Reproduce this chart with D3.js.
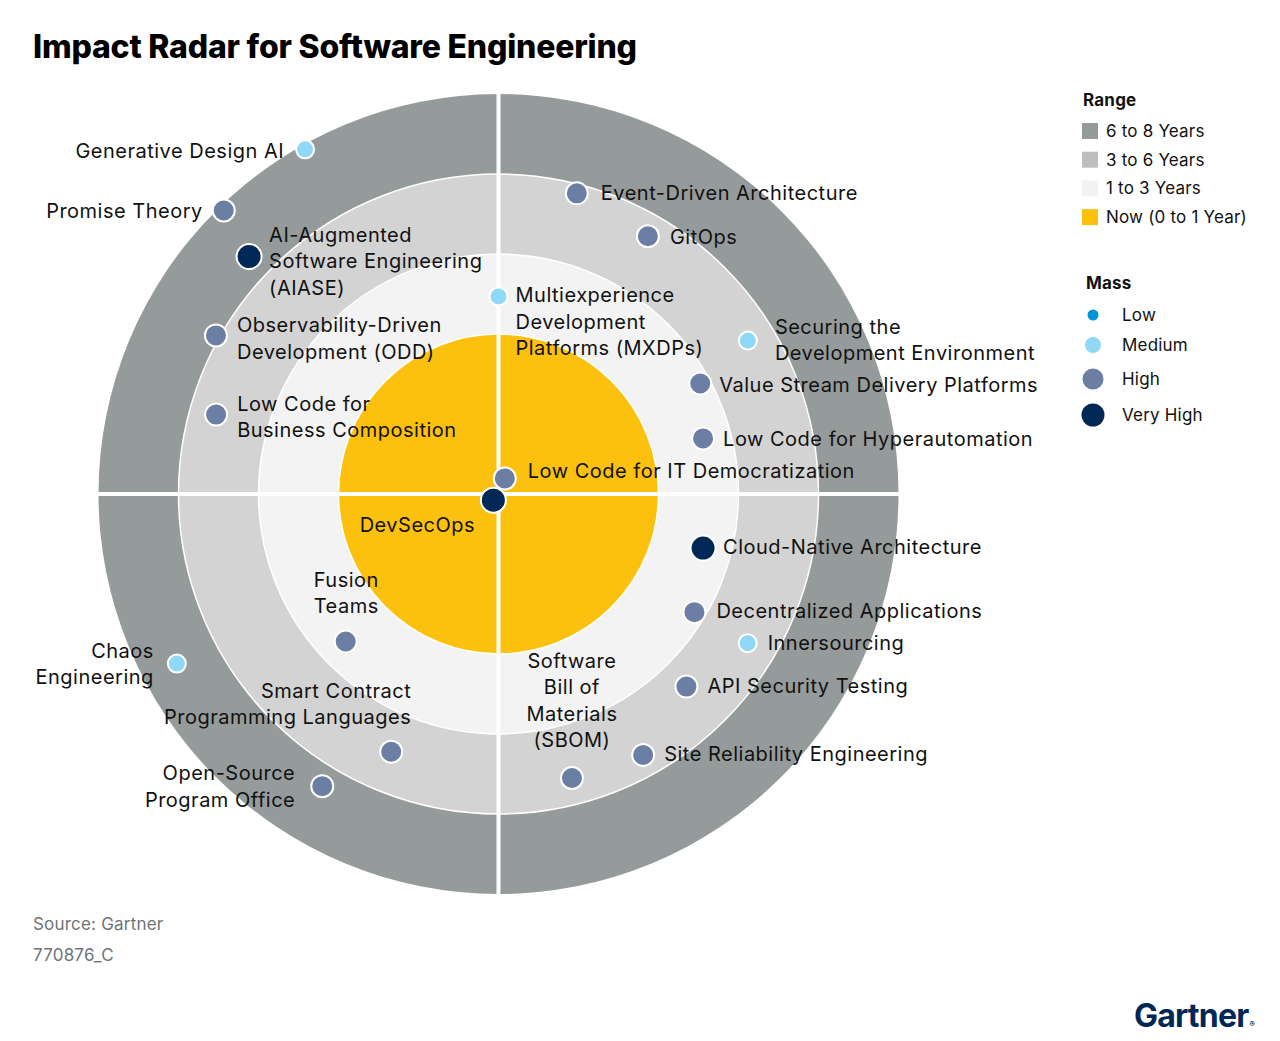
<!DOCTYPE html>
<html>
<head>
<meta charset="utf-8">
<script src="https://cdn.jsdelivr.net/npm/d3@7"></script>
<style>
  body { margin: 0; background: #fff; }
  svg { display: block; font-family: Inter, "Noto Sans", sans-serif; }
  .label { font-size: 20px; fill: #111; letter-spacing: 0.5px; }
  .legend text { font-size: 17px; fill: #111; letter-spacing: 0.2px; }
</style>
</head>
<body>
<div id="chart"></div>
<script>
// range rings, outer to inner (years from now)
const rangeLabels = ['6 to 8 Years', '3 to 6 Years', '1 to 3 Years', 'Now (0 to 1 Year)']
const rangeOuter = [8, 6, 3, 1]
const rangeColors = ['#959b9a', '#d3d3d3', '#f3f3f3', '#fcc10f']
const legendSwatch = ['#959b9a', '#bebebe', '#f2f2f2', '#fcc10f']

const massLevels = ['Low', 'Medium', 'High', 'Very High']
const massColors = ['#0096d6', '#8fd8f7', '#6a7fa3', '#002856']

// technologies: label text, years to mass adoption, angle (deg, clockwise from top), mass
const techNames = [
  'Generative Design AI',
  'Promise Theory',
  'AI-Augmented\nSoftware Engineering\n(AIASE)',
  'Multiexperience\nDevelopment\nPlatforms (MXDPs)',
  'Observability-Driven\nDevelopment (ODD)',
  'Low Code for\nBusiness Composition',
  'Event-Driven Architecture',
  'GitOps',
  'Securing the\nDevelopment Environment',
  'Value Stream Delivery Platforms',
  'Low Code for Hyperautomation',
  'Low Code for IT Democratization',
  'DevSecOps',
  'Cloud-Native Architecture',
  'Decentralized Applications',
  'Innersourcing',
  'API Security Testing',
  'Site Reliability Engineering',
  'Software\nBill of\nMaterials\n(SBOM)',
  'Open-Source\nProgram Office',
  'Smart Contract\nProgramming Languages',
  'Fusion\nTeams',
  'Chaos\nEngineering'
]
const techYears = [7.88, 7.87, 6.61, 1.94, 6.1, 5.0, 5.65, 5.17, 4.98, 2.75, 2.3, 0.105, 0.05,
  2.29, 2.72, 4.89, 4.09, 5.19, 5.0, 6.53, 4.47, 2.31, 7.09]
const techAngles = [-29.3, -44.1, -46.4, 0, -60.7, -74.3, 14.6, 30.1, 58.4, 61.3, 74.8, 22, -140,
  104.8, 121.1, 120.9, 135.7, 151.0, 165.5, 211.1, 202.6, 226.0, 242.2]
const techMass = ['Medium', 'High', 'Very High', 'Medium', 'High', 'High', 'High', 'High', 'Medium',
  'High', 'High', 'High', 'Very High', 'Very High', 'High', 'Medium', 'High', 'High', 'High',
  'High', 'High', 'High', 'Medium']

// label placement relative to its dot: [anchor, dx, dy of first line]
const labelLayout = [
  ['end', -21, 2], ['end', -21, 1], ['start', 20, -22], ['start', 17, -1],
  ['start', 21, -10], ['start', 21, -11], ['start', 24, 0], ['start', 22, 1],
  ['start', 27, -14], ['start', 19, 1], ['start', 20, 1], ['start', 23, -7],
  ['middle', -76, 25], ['start', 20, -1], ['start', 22, -1], ['start', 20, 0],
  ['start', 21, -1], ['start', 21, -1], ['middle', 0, -117], ['end', -27, -13],
  ['end', 20, -61], ['start', -32, -62], ['end', -23, -13]
]

const width = 1280
const height = 1041
const cx = 498.5
const cy = 494
const lineHeight = 26.5

const r = d3.scaleLinear().domain([0, 1, 3, 6, 8]).range([0, 160, 240, 320, 400])
const mass = d3.scaleOrdinal().domain(massLevels).range(massColors)
const massRadius = d3.scaleOrdinal().domain(massLevels).range([5.5, 9, 11, 12.5])

const techs = techNames.map((name, i) => ({
  name,
  years: techYears[i],
  angle: techAngles[i],
  mass: techMass[i],
  layout: labelLayout[i]
}))

const svg = d3.select('#chart').append('svg')
  .attr('width', width)
  .attr('height', height)

svg.append('text')
  .attr('x', 33)
  .attr('y', 58)
  .attr('font-size', 32)
  .attr('font-weight', 800)
  .attr('letter-spacing', -0.2)
  .text('Impact Radar for Software Engineering')

const g = svg.append('g').attr('transform', `translate(${cx},${cy})`)

g.selectAll('.ring')
  .data(rangeOuter)
  .join('circle')
  .attr('class', 'ring')
  .attr('r', d => r(d))
  .attr('fill', (d, i) => rangeColors[i])
  .attr('stroke', '#fff')
  .attr('stroke-width', (d, i) => i === 0 ? 0 : 1.5)

// quadrant dividers
const rMax = r(8)
g.append('line').attr('x1', 0).attr('x2', 0).attr('y1', -rMax - 2).attr('y2', rMax + 2)
  .attr('stroke', '#fff').attr('stroke-width', 4)
g.append('line').attr('y1', 0).attr('y2', 0).attr('x1', -rMax - 2).attr('x2', rMax + 2)
  .attr('stroke', '#fff').attr('stroke-width', 4)

const pos = d => {
  const a = d.angle * Math.PI / 180
  return [r(d.years) * Math.sin(a), -r(d.years) * Math.cos(a)]
}

const labels = g.append('g').attr('class', 'labels')
labels.selectAll('text')
  .data(techs)
  .join('text')
  .attr('class', 'label')
  .attr('text-anchor', d => d.layout[0])
  .each(function(d) {
    const [x, y] = pos(d)
    const lines = d.name.split('\n')
    d3.select(this).selectAll('tspan')
      .data(lines)
      .join('tspan')
      .attr('x', x + d.layout[1])
      .attr('y', (l, j) => y + d.layout[2] + j * lineHeight)
      .attr('dy', '0.35em')
      .text(l => l)
  })

g.append('g').selectAll('circle')
  .data(techs)
  .join('circle')
  .attr('cx', d => pos(d)[0])
  .attr('cy', d => pos(d)[1])
  .attr('r', d => massRadius(d.mass))
  .attr('fill', d => mass(d.mass))
  .attr('stroke', '#fff')
  .attr('stroke-width', 2)

// legend
const legend = svg.append('g').attr('class', 'legend').attr('transform', 'translate(1082,0)')
legend.append('text').attr('x', 1).attr('y', 106).attr('font-weight', 700).text('Range')
const rangeItems = legend.selectAll('.range-item')
  .data(rangeLabels)
  .join('g')
  .attr('class', 'range-item')
  .attr('transform', (d, i) => `translate(0,${131 + i * 28.7})`)
rangeItems.append('rect').attr('y', -8).attr('width', 16).attr('height', 16)
  .attr('fill', (d, i) => legendSwatch[i])
rangeItems.append('text').attr('x', 24).attr('dy', '0.35em').text(d => d)

legend.append('text').attr('x', 4).attr('y', 289).attr('font-weight', 700).text('Mass')
const massItems = legend.selectAll('.mass-item')
  .data(massLevels)
  .join('g')
  .attr('class', 'mass-item')
  .attr('transform', (d, i) => `translate(11,${[315, 345, 379, 415][i]})`)
massItems.append('circle').attr('r', d => [5.5, 8, 10.5, 11.5][massLevels.indexOf(d)])
  .attr('fill', d => mass(d))
massItems.append('text').attr('x', 29).attr('dy', '0.35em').text(d => d)

svg.append('text').attr('x', 33).attr('y', 930).attr('font-size', 17).attr('fill', '#6d7575')
  .attr('letter-spacing', 0.2).text('Source: Gartner')
svg.append('text').attr('x', 33).attr('y', 961).attr('font-size', 17).attr('fill', '#6d7575')
  .attr('letter-spacing', 0.2).text('770876_C')

const logo = svg.append('text').attr('x', 1134).attr('y', 1027)
  .attr('font-size', 32).attr('font-weight', 700).attr('fill', '#002856')
  .attr('letter-spacing', -0.8)
logo.append('tspan').text('Gartner')
logo.append('tspan').attr('font-size', 8).attr('dx', 1).text('®')
</script>
</body>
</html>
